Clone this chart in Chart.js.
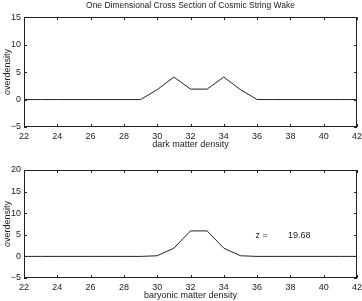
<!DOCTYPE html>
<html>
<head>
<meta charset="utf-8">
<script src="https://cdn.jsdelivr.net/npm/chart.js@4"></script>
<style>
	html, body { margin: 0; padding: 0; background: #fff; }
	#wrap { position: relative; width: 362px; height: 301px; }
	#dark-chart { position: absolute; left: 0; top: 0; }
	#baryon-chart { position: absolute; left: 0; top: 150px; }
</style>
</head>
<body>
<div id="wrap">
	<canvas id="dark-chart" width="362" height="150"></canvas>
	<canvas id="baryon-chart" width="362" height="151"></canvas>
</div>
<script>
'use strict';

var positions = [22, 23, 24, 25, 26, 27, 28, 29, 30, 31, 32, 33, 34, 35, 36, 37, 38, 39, 40, 41, 42];
var darkMatter = [0, 0, 0, 0, 0, 0, 0, 0, 1.8, 4.1, 1.9, 1.9, 4.1, 1.8, 0, 0, 0, 0, 0, 0, 0];
var baryonic = [0, 0, 0, 0, 0, 0, 0, 0, 0.15, 1.9, 5.9, 5.9, 1.9, 0.15, 0, 0, 0, 0, 0, 0, 0];
var xTicks = [22, 24, 26, 28, 30, 32, 34, 36, 38, 40, 42];
var darkYTicks = [-5, 0, 5, 10, 15];
var baryonYTicks = [-5, 0, 5, 10, 15, 20];
var redshift = 19.68;

var FONT = 'Liberation Sans, Arial, Helvetica, sans-serif';
var INK = '#222';

function toPoints(xs, ys) {
	return xs.map(function(x, i) {
		return { x: x, y: ys[i] };
	});
}

function minusSign(value) {
	return value < 0 ? '\u2212' + Math.abs(value) : String(value);
}

// Box round the axes with inward ticks on all four sides, matlab style.
var framePlugin = {
	id: 'matlabFrame',
	afterDatasetsDraw: function(chart) {
		var ctx = chart.ctx;
		var area = chart.chartArea;
		var xs = chart.scales.x;
		var ys = chart.scales.y;
		var len = 3;
		ctx.save();
		ctx.strokeStyle = INK;
		ctx.lineWidth = 1;
		ctx.beginPath();
		xs.ticks.forEach(function(t) {
			var px = Math.round(xs.getPixelForValue(t.value)) + 0.5;
			ctx.moveTo(px, area.bottom);
			ctx.lineTo(px, area.bottom - len);
			ctx.moveTo(px, area.top);
			ctx.lineTo(px, area.top + len);
		});
		ys.ticks.forEach(function(t) {
			var py = Math.round(ys.getPixelForValue(t.value)) + 0.5;
			ctx.moveTo(area.left, py);
			ctx.lineTo(area.left + len, py);
			ctx.moveTo(area.right, py);
			ctx.lineTo(area.right - len, py);
		});
		ctx.stroke();
		ctx.strokeRect(Math.round(area.left) + 0.5, Math.round(area.top) + 0.5,
			Math.round(area.right - area.left) - 1, Math.round(area.bottom - area.top) - 1);
		ctx.restore();
	}
};

// Redshift note placed in data units.
var redshiftPlugin = {
	id: 'redshiftNote',
	afterDatasetsDraw: function(chart, args, options) {
		if (!options.show) {
			return;
		}
		var ctx = chart.ctx;
		var xs = chart.scales.x;
		var ys = chart.scales.y;
		var py = ys.getPixelForValue(4.8);
		ctx.save();
		ctx.fillStyle = INK;
		ctx.font = '9px ' + FONT;
		ctx.textBaseline = 'middle';
		ctx.textAlign = 'left';
		ctx.fillText('z =', xs.getPixelForValue(35.9), py);
		ctx.fillText(redshift.toFixed(2), xs.getPixelForValue(37.85), py);
		ctx.restore();
	}
};

function makeChart(canvasId, values, yTicks, xTitle, title) {
	return new Chart(document.getElementById(canvasId), {
		type: 'line',
		data: {
			datasets: [ {
				data: toPoints(positions, values),
				borderColor: INK,
				borderWidth: 1,
				pointRadius: 0,
				tension: 0,
				fill: false
			} ]
		},
		options: {
			responsive: false,
			animation: false,
			layout: {
				padding: { top: title ? 0 : 20, right: 5, left: 0, bottom: 0 }
			},
			scales: {
				x: {
					type: 'linear',
					min: xTicks[0],
					max: xTicks[xTicks.length - 1],
					afterBuildTicks: function(scale) {
						scale.ticks = xTicks.map(function(v) { return { value: v }; });
					},
					afterFit: function(scale) {
						scale.height = 23;
						scale.paddingLeft = 0;
						scale.paddingRight = 0;
					},
					grid: { display: false, drawTicks: false },
					border: { display: false },
					ticks: {
						color: INK,
						padding: 4,
						maxRotation: 0,
						autoSkip: false,
						font: { family: FONT, size: 9 },
						callback: minusSign
					},
					title: {
						display: true,
						text: xTitle,
						color: INK,
						padding: { top: 0, bottom: 0 },
						font: { family: FONT, size: 9 }
					}
				},
				y: {
					min: yTicks[0],
					max: yTicks[yTicks.length - 1],
					afterBuildTicks: function(scale) {
						scale.ticks = yTicks.map(function(v) { return { value: v }; });
					},
					afterFit: function(scale) {
						scale.width = 24;
						scale.paddingTop = 0;
						scale.paddingBottom = 0;
					},
					grid: { display: false, drawTicks: false },
					border: { display: false },
					ticks: {
						color: INK,
						padding: 3,
						autoSkip: false,
						font: { family: FONT, size: 9 },
						callback: minusSign
					},
					title: {
						display: true,
						text: 'overdensity',
						color: INK,
						padding: { top: 2, bottom: 0 },
						font: { family: FONT, size: 9 }
					}
				}
			},
			plugins: {
				legend: { display: false },
				tooltip: { enabled: false },
				title: {
					display: !!title,
					text: title || '',
					fullSize: false,
					color: INK,
					padding: { top: 1, bottom: 6 },
					font: { family: FONT, size: 8.5, weight: 'normal' }
				},
				redshiftNote: { show: !title }
			}
		},
		plugins: [ framePlugin, redshiftPlugin ]
	});
}

makeChart('dark-chart', darkMatter, darkYTicks, 'dark matter density',
	'One Dimensional Cross Section of Cosmic String Wake');
makeChart('baryon-chart', baryonic, baryonYTicks, 'baryonic matter density', null);
</script>
</body>
</html>
